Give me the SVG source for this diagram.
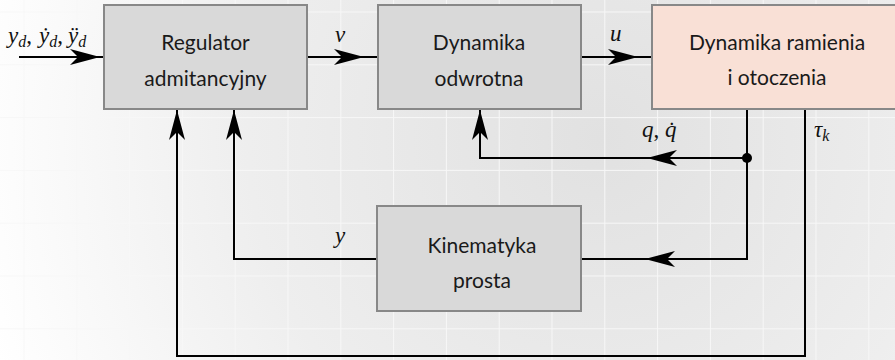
<svg xmlns="http://www.w3.org/2000/svg" width="895" height="360" viewBox="0 0 895 360">
  <defs>
    <radialGradient id="bg" gradientUnits="userSpaceOnUse" cx="600" cy="140" r="640">
      <stop offset="0" stop-color="#e1e1e1"/>
      <stop offset="0.55" stop-color="#eeeeee"/>
      <stop offset="1" stop-color="#ffffff"/>
    </radialGradient>
    <pattern id="grid" patternUnits="userSpaceOnUse" x="23.5" y="11.5" width="52.8" height="52.8">
      <path d="M0,0 H52.8 M0,0 V52.8" fill="none" stroke="#f7f7f7" stroke-width="2"/>
    </pattern>
    <marker id="arrow" markerUnits="userSpaceOnUse" viewBox="0 0 30 16" markerWidth="30" markerHeight="16" refX="30" refY="8" orient="auto">
      <path d="M30,8 L0,0 L8,8 L0,16 Z" fill="#000"/>
    </marker>
    <style>
      .block { fill: #d9d9d9; stroke: #888888; stroke-width: 2; }
      .plant { fill: #f9e0d6; stroke: #888888; stroke-width: 2; }
      .label { font-family: "Lato", "Open Sans", sans-serif; font-size: 21px; fill: #1a1a1a; text-anchor: middle; }
      .math { font-family: "Liberation Serif", "DejaVu Serif", serif; font-size: 23px; font-style: italic; fill: #111; }
      .sub { font-size: 16px; }
      .wire { fill: none; stroke: #000; stroke-width: 2; }
      .arr { marker-end: url(#arrow); }
    </style>
  </defs>

  <!-- background -->
  <rect x="0" y="0" width="895" height="360" fill="url(#bg)"/>
  <rect x="0" y="0" width="895" height="360" fill="url(#grid)"/>

  <!-- connectors -->
  <g id="connectors">
    <!-- reference input -->
    <path class="wire arr" d="M19,57 H100"/>
    <path class="wire" d="M100,57 H104"/>
    <!-- v -->
    <path class="wire arr" d="M307,57 H364"/>
    <path class="wire" d="M364,57 H378"/>
    <!-- u -->
    <path class="wire arr" d="M581,57 H638"/>
    <path class="wire" d="M638,57 H652"/>
    <!-- q, q-dot to kinematics -->
    <path class="wire" d="M747,109 V259 H645"/>
    <path class="wire arr" d="M747,259 H645"/>
    <path class="wire" d="M645,259 H581"/>
    <!-- q, q-dot to inverse dynamics -->
    <path class="wire arr" d="M747,158 H647"/>
    <path class="wire arr" d="M647,158 H480 V110"/>
    <circle cx="747" cy="158" r="5" fill="#000"/>
    <!-- y feedback -->
    <path class="wire arr" d="M377,259 H234 V110"/>
    <!-- tau_k feedback -->
    <path class="wire arr" d="M805,109 V356 H177 V110"/>
  </g>

  <!-- signal labels -->
  <g id="signal-labels">
    <text class="math" x="8" y="43">y<tspan class="sub" dy="4">d</tspan><tspan font-style="normal" dy="-4">,</tspan></text>
    <text class="math" x="39" y="43">ẏ<tspan class="sub" dy="4">d</tspan><tspan font-style="normal" dy="-4">,</tspan></text>
    <text class="math" x="68" y="43">ÿ<tspan class="sub" dy="4">d</tspan></text>
    <text class="math" x="335" y="42">v</text>
    <text class="math" x="610" y="41">u</text>
    <text class="math" x="642" y="137">q<tspan font-style="normal">,</tspan> q̇</text>
    <text class="math" x="814" y="137">τ<tspan class="sub" dy="4">k</tspan></text>
    <text class="math" x="335" y="243">y</text>
  </g>

  <g id="regulator">
    <rect class="block" x="104" y="5" width="203" height="104"/>
    <text class="label" x="205.5" y="50">Regulator</text>
    <text class="label" x="205.5" y="86">admitancyjny</text>
  </g>

  <g id="inverse-dynamics">
    <rect class="block" x="378" y="5" width="203" height="104"/>
    <text class="label" x="479" y="50">Dynamika</text>
    <text class="label" x="479" y="86">odwrotna</text>
  </g>

  <g id="plant">
    <rect class="plant" x="652" y="5" width="250" height="104"/>
    <text class="label" x="777" y="50">Dynamika ramienia</text>
    <text class="label" x="777" y="85">i otoczenia</text>
  </g>

  <g id="forward-kinematics">
    <rect class="block" x="377" y="206" width="204" height="105"/>
    <text class="label" x="482" y="253">Kinematyka</text>
    <text class="label" x="482" y="288">prosta</text>
  </g>
</svg>
